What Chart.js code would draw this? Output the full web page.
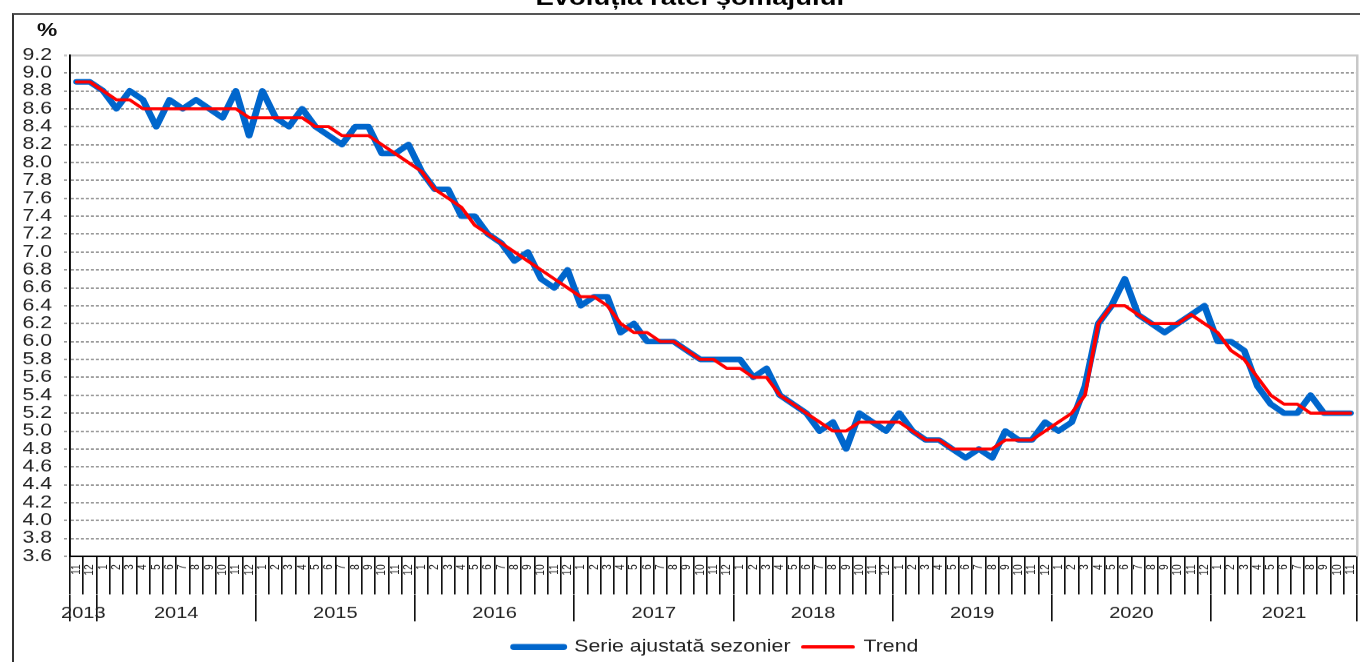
<!DOCTYPE html>
<html>
<head>
<meta charset="utf-8">
<script src="https://cdn.jsdelivr.net/npm/chart.js@4.4.1/dist/chart.umd.min.js"></script>
<style>
html, body { margin: 0; padding: 0; background: #fff; }
#wrap { position: relative; width: 1360px; height: 662px; overflow: hidden; background: #fff; }
#frame { position: absolute; left: 12px; top: 13px; width: 1400px; height: 700px; border-left: 2px solid #333; border-top: 2px solid #555; box-sizing: border-box; }
#c { position: absolute; left: 0; top: 0; }
#pct { position: absolute; left: 37px; top: 20px; font: bold 19px "Liberation Sans", Arial, sans-serif; line-height: 19px; transform: scaleX(1.2); transform-origin: left top; color: #111; }
</style>
</head>
<body>
<div id="wrap">
  <div id="frame"></div>
  <canvas id="c" width="1088" height="662" style="width:1360px;height:662px;"></canvas>
  <div id="pct">%</div>
</div>
<script>
// ---- data ----
const categories = [
  '11','12',
  '1','2','3','4','5','6','7','8','9','10','11','12',
  '1','2','3','4','5','6','7','8','9','10','11','12',
  '1','2','3','4','5','6','7','8','9','10','11','12',
  '1','2','3','4','5','6','7','8','9','10','11','12',
  '1','2','3','4','5','6','7','8','9','10','11','12',
  '1','2','3','4','5','6','7','8','9','10','11','12',
  '1','2','3','4','5','6','7','8','9','10','11','12',
  '1','2','3','4','5','6','7','8','9','10','11'
];
const yearNames = ['2013','2014','2015','2016','2017','2018','2019','2020','2021'];
const monthsInYear = [2, 12, 12, 12, 12, 12, 12, 12, 11];

const seasonallyAdjusted = [
  8.9, 8.9,
  8.8, 8.6, 8.8, 8.7, 8.4, 8.7, 8.6, 8.7, 8.6, 8.5, 8.8, 8.3,
  8.8, 8.5, 8.4, 8.6, 8.4, 8.3, 8.2, 8.4, 8.4, 8.1, 8.1, 8.2,
  7.9, 7.7, 7.7, 7.4, 7.4, 7.2, 7.1, 6.9, 7.0, 6.7, 6.6, 6.8,
  6.4, 6.5, 6.5, 6.1, 6.2, 6.0, 6.0, 6.0, 5.9, 5.8, 5.8, 5.8,
  5.8, 5.6, 5.7, 5.4, 5.3, 5.2, 5.0, 5.1, 4.8, 5.2, 5.1, 5.0,
  5.2, 5.0, 4.9, 4.9, 4.8, 4.7, 4.8, 4.7, 5.0, 4.9, 4.9, 5.1,
  5.0, 5.1, 5.5, 6.2, 6.4, 6.7, 6.3, 6.2, 6.1, 6.2, 6.3, 6.4,
  6.0, 6.0, 5.9, 5.5, 5.3, 5.2, 5.2, 5.4, 5.2, 5.2, 5.2
];
const trend = [
  8.9, 8.9,
  8.8, 8.7, 8.7, 8.6, 8.6, 8.6, 8.6, 8.6, 8.6, 8.6, 8.6, 8.5,
  8.5, 8.5, 8.5, 8.5, 8.4, 8.4, 8.3, 8.3, 8.3, 8.2, 8.1, 8.0,
  7.9, 7.7, 7.6, 7.5, 7.3, 7.2, 7.1, 7.0, 6.9, 6.8, 6.7, 6.6,
  6.5, 6.5, 6.4, 6.2, 6.1, 6.1, 6.0, 6.0, 5.9, 5.8, 5.8, 5.7,
  5.7, 5.6, 5.6, 5.4, 5.3, 5.2, 5.1, 5.0, 5.0, 5.1, 5.1, 5.1,
  5.1, 5.0, 4.9, 4.9, 4.8, 4.8, 4.8, 4.8, 4.9, 4.9, 4.9, 5.0,
  5.1, 5.2, 5.4, 6.2, 6.4, 6.4, 6.3, 6.2, 6.2, 6.2, 6.3, 6.2,
  6.1, 5.9, 5.8, 5.6, 5.4, 5.3, 5.3, 5.2, 5.2, 5.2, 5.2
];
const yMin = 3.6, yMax = 9.2, yStep = 0.2;

// ---- year axis ticks (boundaries + centres) built from the month counts ----
const yearBoundaries = [-0.5];
monthsInYear.forEach(n => yearBoundaries.push(yearBoundaries[yearBoundaries.length - 1] + n));
const yearCentres = yearNames.map((_, k) => (yearBoundaries[k] + yearBoundaries[k + 1]) / 2);
const yearTickValues = yearBoundaries.concat(yearCentres).sort((a, b) => a - b);
const isBoundary = v => yearBoundaries.some(b => Math.abs(b - v) < 1e-6);
const yearAt = v => { const k = yearCentres.findIndex(c => Math.abs(c - v) < 1e-6); return k >= 0 ? yearNames[k] : ''; };

Chart.defaults.font.family = '"Liberation Sans", Arial, sans-serif';
Chart.defaults.color = '#222';

const shiftLegend = {
  id: 'shiftLegend',
  afterLayout(chart) {
    const l = chart.legend;
    if (l) { l.left += 21; l.right += 21; l.top += 3; l.bottom += 3; }
  }
};

new Chart(document.getElementById('c'), {
  type: 'line',
  data: {
    labels: categories,
    datasets: [
      { label: 'Trend', data: trend, borderColor: '#ff0000', backgroundColor: '#ff0000', borderWidth: 3,
        pointRadius: 0, tension: 0, borderJoinStyle: 'round', borderCapStyle: 'round', xAxisID: 'x', yAxisID: 'y' },
      { label: 'Serie ajustată sezonier', data: seasonallyAdjusted, borderColor: '#0066cc', backgroundColor: '#0066cc', borderWidth: 5.5,
        pointRadius: 0, tension: 0, borderJoinStyle: 'round', borderCapStyle: 'round', xAxisID: 'x', yAxisID: 'y' }
    ]
  },
  options: {
    responsive: false,
    maintainAspectRatio: false,
    animation: false,
    devicePixelRatio: 1.25,
    events: [],
    layout: { padding: { left: 18, right: 2.4, top: 0, bottom: 0 } },
    plugins: {
      tooltip: { enabled: false },
      title: {
        display: true, text: 'Evoluția ratei șomajului', color: '#000',
        font: { size: 22, weight: 'bold' }, padding: { top: -14.2, bottom: 42.8 }
      },
      legend: {
        position: 'bottom', reverse: true,
        labels: { boxWidth: 40, boxHeight: 0.5, padding: 10, font: { size: 17 }, color: '#222' }
      }
    },
    scales: {
      x: {
        type: 'category', position: 'bottom', weight: 0, offset: true,
        afterFit: s => { s.height = 38; },
        border: { display: true, color: '#000', width: 1.5 },
        grid: { offset: true, drawOnChartArea: false, tickLength: 38, color: '#111', lineWidth: 1.3 },
        ticks: { autoSkip: false, minRotation: 90, maxRotation: 90, padding: -30, font: { size: 10 }, color: '#222' }
      },
      x2: {
        type: 'linear', position: 'bottom', weight: 1, min: -0.5, max: 96.5, bounds: 'data',
        afterBuildTicks: s => { s.ticks = yearTickValues.map(v => ({ value: v })); },
        afterFit: s => { s.height = 31; },
        border: { display: false },
        grid: { drawOnChartArea: false, tickLength: 27, lineWidth: 1.3,
                color: c => (c.tick && isBoundary(c.tick.value)) ? '#111' : 'rgba(0,0,0,0)' },
        ticks: { autoSkip: false, minRotation: 0, maxRotation: 0, padding: -17.6, font: { size: 16 }, color: '#222',
                 callback: v => yearAt(v) }
      },
      y: {
        min: yMin, max: yMax,
        afterFit: s => { s.width = 38; },
        border: { color: '#000', width: 1.5, dash: c => (c.tick && c.tick.value > yMax - 0.01) ? [] : [2.4, 1.6] },
        grid: {
          color: c => (c.tick && c.tick.value > yMax - 0.01) ? '#c8c8c8' : '#999',
          lineWidth: c => (c.tick && c.tick.value > yMax - 0.01) ? 2 : 1.5,
          tickLength: 4.8, tickBorderDash: [2.4, 1.6]
        },
        ticks: { autoSkip: false, stepSize: yStep, padding: 9.6, font: { size: 17 }, color: '#222', callback: v => v.toFixed(1) }
      },
      y2: {
        position: 'right', display: true,
        grid: { display: false, drawTicks: false },
        ticks: { display: false },
        border: { color: '#c8c8c8', width: 2 }
      }
    }
  },
  plugins: [shiftLegend]
});
</script>
</body>
</html>
